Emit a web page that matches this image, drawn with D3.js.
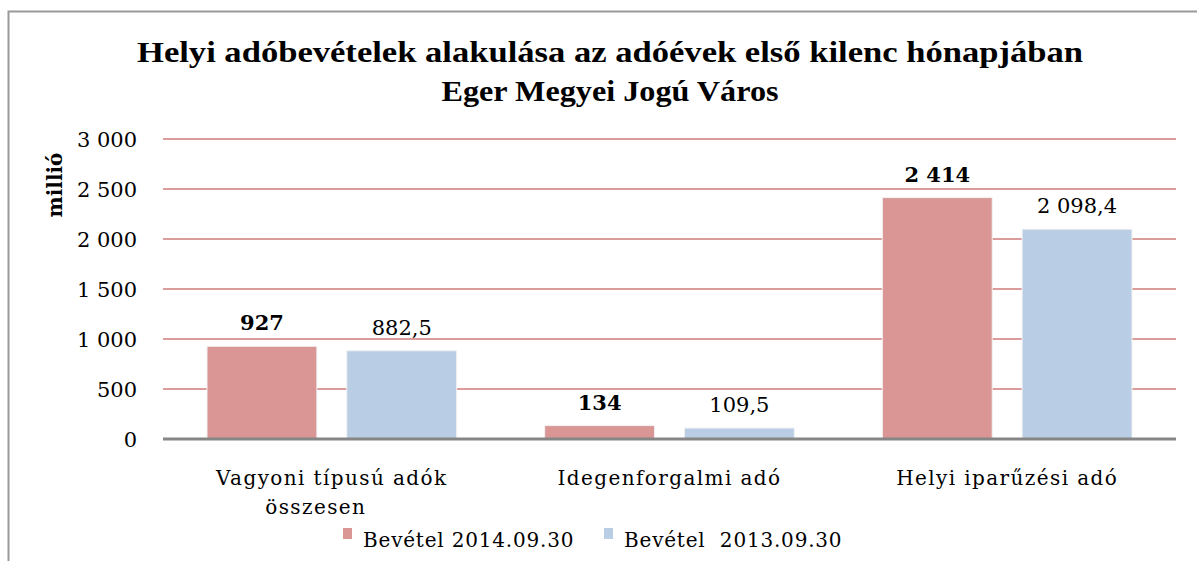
<!DOCTYPE html>
<html>
<head>
<meta charset="utf-8">
<script src="https://cdn.jsdelivr.net/npm/d3@7"></script>
<style>
	body { margin: 0; background: #fff; }
	text { font-family: "DejaVu Serif", "Liberation Serif", serif; fill: #000; }
</style>
</head>
<body>
<div id="chart"></div>
<script>
var categories = [["Vagyoni típusú adók", "összesen"], ["Idegenforgalmi adó"], ["Helyi iparűzési adó"]];
var seriesNames = ["Bevétel 2014.09.30", "Bevétel  2013.09.30"];
var values2014 = [927, 134, 2414];
var values2013 = [882.5, 109.5, 2098.4];
var labels2014 = ["927", "134", "2 414"];
var labels2013 = ["882,5", "109,5", "2 098,4"];
var yTicks = [0, 500, 1000, 1500, 2000, 2500, 3000];
var yTickLabels = ["0", "500", "1 000", "1 500", "2 000", "2 500", "3 000"];

var colors = ["#d99694", "#b9cde5"];

var _width = 1197, _height = 561;
var plot = { left: 163, right: 1176, top: 139, bottom: 439 };

var svg = d3.select("#chart").append("svg")
	.attr("width", _width)
	.attr("height", _height);

// outer frame
svg.append("rect")
	.attr("x", 8.5).attr("y", 11.5)
	.attr("width", 1250).attr("height", 600)
	.attr("fill", "#fff")
	.attr("stroke", "#9a9a9a")
	.attr("stroke-width", 2);

// title
var title = svg.append("text")
	.attr("text-anchor", "middle")
	.style("font-family", "'Liberation Serif', serif")
	.style("font-weight", "bold")
	.style("font-size", "29px");
title.append("tspan").attr("x", 610).attr("y", 62)
	.attr("textLength", 946).attr("lengthAdjust", "spacingAndGlyphs")
	.text("Helyi adóbevételek alakulása az adóévek első kilenc hónapjában");
title.append("tspan").attr("x", 610).attr("y", 101)
	.attr("textLength", 337).attr("lengthAdjust", "spacingAndGlyphs")
	.text("Eger Megyei Jogú Város");

var x0 = d3.scaleBand()
	.domain(d3.range(categories.length))
	.range([plot.left, plot.right])
	.paddingInner(0)
	.paddingOuter(0);

var x1 = d3.scaleBand()
	.domain([0, 1])
	.range([44, x0.bandwidth() - 44])
	.paddingInner(0.214);

var y = d3.scaleLinear()
	.domain([0, 3000])
	.range([plot.bottom, plot.top]);

// gridlines
svg.append("g").selectAll("line.grid")
	.data(yTicks.slice(1))
	.enter()
	.append("line")
	.attr("class", "grid")
	.attr("x1", plot.left).attr("x2", plot.right)
	.attr("y1", function(d) { return y(d); })
	.attr("y2", function(d) { return y(d); })
	.attr("stroke", "#dc9c9b")
	.attr("stroke-width", 2);

// y tick labels
svg.append("g").selectAll("text.tick")
	.data(yTicks)
	.enter()
	.append("text")
	.attr("class", "tick")
	.attr("x", 137)
	.attr("y", function(d) { return y(d) + 8; })
	.attr("text-anchor", "end")
	.style("font-size", "21px")
	.text(function(d, i) { return yTickLabels[i]; });

// y axis title
svg.append("text")
	.attr("transform", "translate(62,185) rotate(-90)")
	.attr("text-anchor", "middle")
	.style("font-weight", "bold")
	.style("font-size", "20px")
	.text("millió");

// bars
var series = [values2014, values2013];
var seriesLabels = [labels2014, labels2013];
var barData = [];
for (var s = 0; s < series.length; s++) {
	for (var i = 0; i < categories.length; i++) {
		barData.push({ s: s, i: i, v: series[s][i], label: seriesLabels[s][i] });
	}
}

svg.append("g").selectAll("rect.bar")
	.data(barData)
	.enter()
	.append("rect")
	.attr("class", "bar")
	.attr("x", function(d) { return x0(d.i) + x1(d.s); })
	.attr("width", x1.bandwidth())
	.attr("y", function(d) { return y(d.v); })
	.attr("height", function(d) { return y(0) - y(d.v); })
	.attr("fill", function(d) { return colors[d.s]; })
	.attr("stroke", "#f2f2f2")
	.attr("stroke-width", 1);

// value labels
svg.append("g").selectAll("text.value")
	.data(barData)
	.enter()
	.append("text")
	.attr("class", "value")
	.attr("x", function(d) { return x0(d.i) + x1(d.s) + x1.bandwidth() / 2; })
	.attr("y", function(d) { return y(d.v) - 16; })
	.attr("text-anchor", "middle")
	.style("font-size", "21px")
	.style("font-weight", function(d) { return d.s === 0 ? "bold" : "normal"; })
	.text(function(d) { return d.label; });

// baseline
svg.append("line")
	.attr("x1", plot.left).attr("x2", plot.right)
	.attr("y1", y(0)).attr("y2", y(0))
	.attr("stroke", "#868686")
	.attr("stroke-width", 3);

// category labels
var cat = svg.append("g").selectAll("text.cat")
	.data(categories)
	.enter()
	.append("text")
	.attr("class", "cat")
	.attr("text-anchor", "middle")
	.style("font-size", "20px")
	.style("letter-spacing", "1.4px");
cat.selectAll("tspan")
	.data(function(d, i) { return d.map(function(t) { return { t: t, i: i }; }); })
	.enter()
	.append("tspan")
	.attr("x", function(d, j) { return x0(d.i) + x0.bandwidth() / 2 - j * 16; })
	.attr("y", function(d, j) { return 485 + j * 29; })
	.text(function(d) { return d.t; });

// legend
var legendX = [343, 604];
var legend = svg.append("g").selectAll("g.legend")
	.data(seriesNames)
	.enter()
	.append("g")
	.attr("class", "legend")
	.attr("transform", function(d, i) { return "translate(" + legendX[i] + ",0)"; });
legend.append("rect")
	.attr("x", 0).attr("y", 528)
	.attr("width", 9).attr("height", 11)
	.attr("fill", function(d, i) { return colors[i]; });
legend.append("text")
	.attr("x", 20).attr("y", 547)
	.style("font-size", "20px")
	.style("letter-spacing", "0.8px")
	.style("white-space", "pre")
	.text(function(d) { return d; });
</script>
</body>
</html>
